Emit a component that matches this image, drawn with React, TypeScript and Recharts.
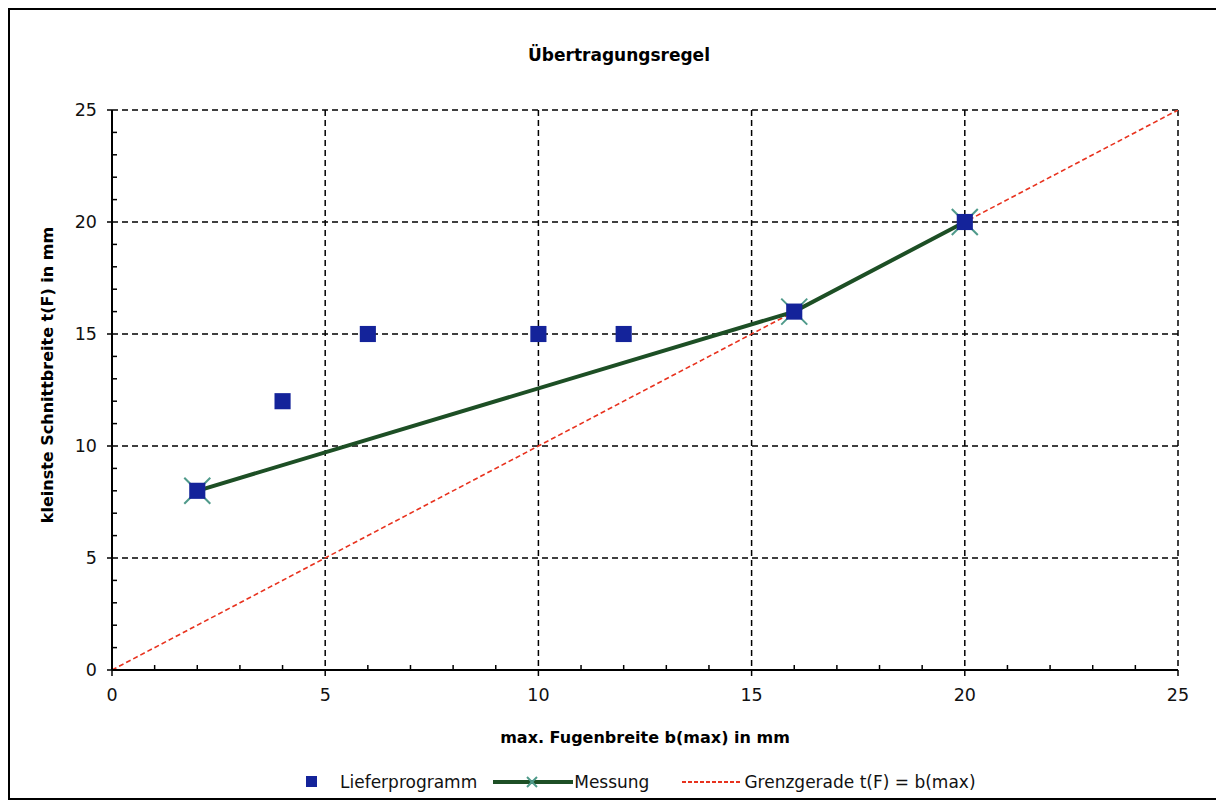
import { ComposedChart, Line, Scatter, XAxis, YAxis, ZAxis, CartesianGrid } from "recharts";

const lieferprogramm = [
  { x: 2, y: 8 },
  { x: 4, y: 12 },
  { x: 6, y: 15 },
  { x: 10, y: 15 },
  { x: 12, y: 15 },
  { x: 16, y: 16 },
  { x: 20, y: 20 },
];

const messung = [
  { x: 2, y: 8 },
  { x: 16, y: 16 },
  { x: 20, y: 20 },
];

const grenzgerade = [
  { x: 0, y: 0 },
  { x: 25, y: 25 },
];

const minorTicks = Array.from({ length: 26 }, (_, i) => i);
const majorTicks = [0, 5, 10, 15, 20, 25];

const FONT = "'DejaVu Sans', Verdana, sans-serif";

const XTick = (props: any) => {
  const { x, y, payload } = props;
  const v = payload.value;
  const major = v % 5 === 0;
  return (
    <g>
      {major ? (
        <line x1={x} x2={x} y1={y} y2={y + 6} stroke="#000" strokeWidth={1.5} />
      ) : (
        <line x1={x} x2={x} y1={y} y2={y - 5} stroke="#000" strokeWidth={1.5} />
      )}
      {major && (
        <text x={x} y={y + 31} textAnchor="middle" fontSize={17.5} fontFamily={FONT} fill="#111">
          {v}
        </text>
      )}
    </g>
  );
};

const YTick = (props: any) => {
  const { x, y, payload } = props;
  const v = payload.value;
  const major = v % 5 === 0;
  return (
    <g>
      {major ? (
        <line x1={x - 5} x2={x} y1={y} y2={y} stroke="#000" strokeWidth={1.5} />
      ) : (
        <line x1={x} x2={x + 5} y1={y} y2={y} stroke="#000" strokeWidth={1.5} />
      )}
      {major && (
        <text x={x - 15} y={y + 6} textAnchor="end" fontSize={17.5} fontFamily={FONT} fill="#111">
          {v}
        </text>
      )}
    </g>
  );
};

const CrossDot = (props: any) => {
  const { cx, cy } = props;
  if (cx == null || cy == null) return null;
  const r = 13;
  return (
    <g stroke="#4f9a8a" strokeWidth={2}>
      <line x1={cx - r} y1={cy - r} x2={cx + r} y2={cy + r} />
      <line x1={cx - r} y1={cy + r} x2={cx + r} y2={cy - r} />
    </g>
  );
};

export default function App() {
  return (
    <div
      style={{
        position: "relative",
        width: 1212,
        height: 792,
        border: "2px solid #000",
        boxSizing: "border-box",
        background: "#fff",
        fontFamily: FONT,
      }}
    >
      <div
        style={{
          position: "absolute",
          left: 609,
          top: 45,
          transform: "translate(-50%, -50%)",
          fontSize: 17,
          fontWeight: "bold",
          whiteSpace: "nowrap",
        }}
      >
        Übertragungsregel
      </div>
      <div
        style={{
          position: "absolute",
          left: 37,
          top: 365,
          transform: "translate(-50%, -50%) rotate(-90deg)",
          fontSize: 16,
          fontWeight: "bold",
          whiteSpace: "nowrap",
        }}
      >
        kleinste Schnittbreite t(F) in mm
      </div>
      <div
        style={{
          position: "absolute",
          left: 635,
          top: 727,
          transform: "translate(-50%, -50%)",
          fontSize: 16,
          fontWeight: "bold",
          whiteSpace: "nowrap",
        }}
      >
        max. Fugenbreite b(max) in mm
      </div>
      <div style={{ position: "absolute", left: 0, top: 0 }}>
        <ComposedChart
          width={1208}
          height={788}
          margin={{ top: 100, right: 40, bottom: 68, left: 42 }}
        >
          <CartesianGrid
            stroke="#000"
            strokeDasharray="6 4"
            strokeWidth={1.5}
            horizontalValues={majorTicks}
            verticalValues={majorTicks}
          />
          <XAxis
            type="number"
            dataKey="x"
            domain={[0, 25]}
            ticks={minorTicks}
            interval={0}
            tickSize={0}
            tickMargin={0}
            tickLine={false}
            tick={<XTick />}
            height={60}
            axisLine={{ stroke: "#000", strokeWidth: 2 }}
            allowDataOverflow
          />
          <YAxis
            type="number"
            dataKey="y"
            domain={[0, 25]}
            ticks={minorTicks}
            interval={0}
            tickSize={0}
            tickMargin={0}
            tickLine={false}
            tick={<YTick />}
            width={60}
            axisLine={{ stroke: "#000", strokeWidth: 2 }}
            allowDataOverflow
          />
          <ZAxis range={[260, 260]} />
          <Line
            data={grenzgerade}
            dataKey="y"
            stroke="#e8321e"
            strokeWidth={1.6}
            strokeDasharray="5 3"
            dot={false}
            activeDot={false}
            isAnimationActive={false}
          />
          <Line
            data={messung}
            dataKey="y"
            stroke="#1d4f25"
            strokeWidth={4}
            dot={<CrossDot />}
            activeDot={false}
            isAnimationActive={false}
          />
          <Scatter
            data={lieferprogramm}
            dataKey="y"
            fill="#14239a"
            shape="square"
            isAnimationActive={false}
          />
        </ComposedChart>
      </div>
      <div
        style={{
          position: "absolute",
          top: 762,
          left: 292,
          display: "flex",
          alignItems: "center",
          fontSize: 17,
          color: "#111",
          whiteSpace: "nowrap",
        }}
      >
        <svg width={20} height={16}>
          <rect x={4} y={2} width={11} height={11} fill="#14239a" />
        </svg>
        <span style={{ marginLeft: 18 }}>Lieferprogramm</span>
        <svg width={80} height={16} style={{ marginLeft: 16 }}>
          <line x1={0} y1={8} x2={80} y2={8} stroke="#1d4f25" strokeWidth={4} />
          <line x1={34} y1={3} x2={44} y2={13} stroke="#4f9a8a" strokeWidth={2} />
          <line x1={34} y1={13} x2={44} y2={3} stroke="#4f9a8a" strokeWidth={2} />
        </svg>
        <span style={{ marginLeft: 1 }}>Messung</span>
        <svg width={58} height={16} style={{ marginLeft: 33 }}>
          <line x1={0} y1={8} x2={58} y2={8} stroke="#e8321e" strokeWidth={2} strokeDasharray="4 2" />
        </svg>
        <span style={{ marginLeft: 4 }}>Grenzgerade t(F) = b(max)</span>
      </div>
    </div>
  );
}
